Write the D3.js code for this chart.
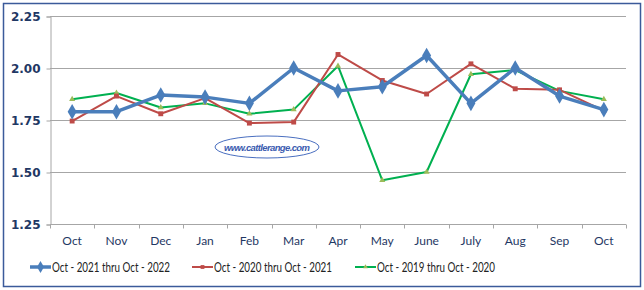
<!DOCTYPE html>
<html>
<head>
<meta charset="utf-8">
<script src="https://cdn.jsdelivr.net/npm/d3@7"></script>
<style>
  body { margin: 0; background: #fff; }
  svg { display: block; }
</style>
</head>
<body>
<svg></svg>
<script>
var width = 644,
    height = 290;

var months = ["Oct", "Nov", "Dec", "Jan", "Feb", "Mar", "Apr", "May", "June", "July", "Aug", "Sep", "Oct"];
var yTicks = [1.25, 1.50, 1.75, 2.00, 2.25];

var s2022 = [1.79, 1.79, 1.87, 1.86, 1.83, 2.00, 1.89, 1.91, 2.06, 1.83, 2.00, 1.865, 1.80];
var s2021 = [1.745, 1.865, 1.78, 1.855, 1.735, 1.74, 2.065, 1.94, 1.875, 2.02, 1.90, 1.895, 1.795];
var s2020 = [1.85, 1.88, 1.81, 1.83, 1.78, 1.80, 2.01, 1.46, 1.50, 1.97, 1.99, 1.89, 1.85];

var seriesNames = ["Oct - 2021 thru Oct - 2022", "Oct - 2020 thru Oct - 2021", "Oct - 2019 thru Oct - 2020"];

var series = [
  { name: seriesNames[0], values: s2022, color: "#4A7EBB", width: 3.5, marker: d3.symbolDiamond, size: 70, fill: "#4A7EBB" },
  { name: seriesNames[1], values: s2021, color: "#BE4B48", width: 2, marker: d3.symbolSquare, size: 24, fill: "#BE4B48" },
  { name: seriesNames[2], values: s2020, color: "#00B050", width: 2, marker: d3.symbolTriangle, size: 16, fill: "#9BBB59" }
];

var margin = { left: 50, right: 18, top: 16, bottom: 66 };

var svg = d3.select("svg").attr("width", width).attr("height", height);

// frame
svg.append("rect")
  .attr("x", 3.5).attr("y", 3.5)
  .attr("width", width - 7).attr("height", height - 7)
  .attr("fill", "#fff").attr("stroke", "#3B5A9A").attr("stroke-width", 1.5);

var x = d3.scaleBand()
  .domain(d3.range(months.length))
  .range([margin.left, width - margin.right]);

var y = d3.scaleLinear()
  .domain([1.25, 2.25])
  .range([height - margin.bottom, margin.top]);

var g = svg.append("g");

// gridlines
g.selectAll(".grid")
  .data(yTicks)
  .enter().append("line")
  .attr("x1", margin.left).attr("x2", width - margin.right)
  .attr("y1", function(d) { return Math.round(y(d)) + 0.5; })
  .attr("y2", function(d) { return Math.round(y(d)) + 0.5; })
  .attr("stroke", "#A6A6A6").attr("stroke-width", 1);

// y axis
var yAxis = g.append("g")
  .attr("transform", "translate(" + (margin.left + 0.5) + ",0.5)")
  .call(d3.axisLeft(y).tickValues(yTicks).tickFormat(d3.format(".2f")).tickSize(4).tickPadding(6));
yAxis.select(".domain").attr("stroke", "#A6A6A6");
yAxis.selectAll(".tick line").attr("stroke", "#A6A6A6");
yAxis.selectAll("text")
  .attr("fill", "#1F3864")
  .style("font-family", "Verdana, 'DejaVu Sans', sans-serif")
  .style("font-weight", "bold")
  .style("font-size", "12px");

// x axis: ticks at category boundaries
var xAxisG = g.append("g")
  .attr("transform", "translate(0," + (Math.round(y(1.25)) + 0.5) + ")");
xAxisG.append("line")
  .attr("x1", margin.left).attr("x2", width - margin.right)
  .attr("stroke", "#A6A6A6");
xAxisG.selectAll(".xt")
  .data(d3.range(months.length + 1))
  .enter().append("line")
  .attr("x1", function(i) { return Math.round(margin.left + i * x.step()) + 0.5; })
  .attr("x2", function(i) { return Math.round(margin.left + i * x.step()) + 0.5; })
  .attr("y1", 0).attr("y2", 4)
  .attr("stroke", "#A6A6A6");
xAxisG.selectAll(".xl")
  .data(months)
  .enter().append("text")
  .attr("x", function(d, i) { return x(i) + x.bandwidth() / 2; })
  .attr("y", 20)
  .attr("text-anchor", "middle")
  .attr("fill", "#1F3864")
  .style("font-family", "Lato, 'Liberation Sans', sans-serif")
  .style("font-size", "12px")
  .text(function(d) { return d; });

// watermark
var wm = g.append("g").attr("transform", "translate(267,147)");
wm.append("ellipse").attr("rx", 52).attr("ry", 11)
  .attr("fill", "#fff").attr("stroke", "#4A6FC0").attr("stroke-width", 1);
wm.append("text")
  .attr("text-anchor", "middle").attr("y", 3.5)
  .attr("fill", "#3A5BB0")
  .style("font-family", "'Liberation Sans', sans-serif")
  .style("font-style", "italic").style("font-weight", "bold")
  .style("font-size", "9.5px")
  .attr("textLength", 86)
  .text("www.cattlerange.com");

var line = d3.line()
  .x(function(d, i) { return x(i) + x.bandwidth() / 2; })
  .y(function(d) { return y(d); });

// draw from oldest to newest so blue is on top
series.slice().reverse().forEach(function(s) {
  g.append("path")
    .datum(s.values)
    .attr("d", line)
    .attr("fill", "none")
    .attr("stroke", s.color)
    .attr("stroke-width", s.width)
    .attr("stroke-linejoin", "round");
  g.selectAll(null)
    .data(s.values)
    .enter().append("path")
    .attr("transform", function(d, i) { return "translate(" + (x(i) + x.bandwidth() / 2) + "," + y(d) + ")"; })
    .attr("d", d3.symbol().type(s.marker).size(s.size))
    .attr("fill", s.fill);
});

// legend
var legendX = [30, 192, 355];
var legend = svg.append("g").attr("transform", "translate(0,267)");
series.forEach(function(s, i) {
  var lg = legend.append("g").attr("transform", "translate(" + legendX[i] + ",0)");
  lg.append("line").attr("x1", 0).attr("x2", 21)
    .attr("stroke", s.color).attr("stroke-width", s.width);
  lg.append("path")
    .attr("transform", "translate(10.5,0)")
    .attr("d", d3.symbol().type(s.marker).size(s.size * 0.6))
    .attr("fill", s.fill);
  lg.append("text")
    .attr("x", 22).attr("y", 4.5)
    .attr("fill", "#222")
    .style("font-family", "Lato, 'Liberation Sans', sans-serif")
    .style("font-size", "12.5px")
    .attr("textLength", 118)
    .attr("lengthAdjust", "spacingAndGlyphs")
    .text(s.name);
});
</script>
</body>
</html>
